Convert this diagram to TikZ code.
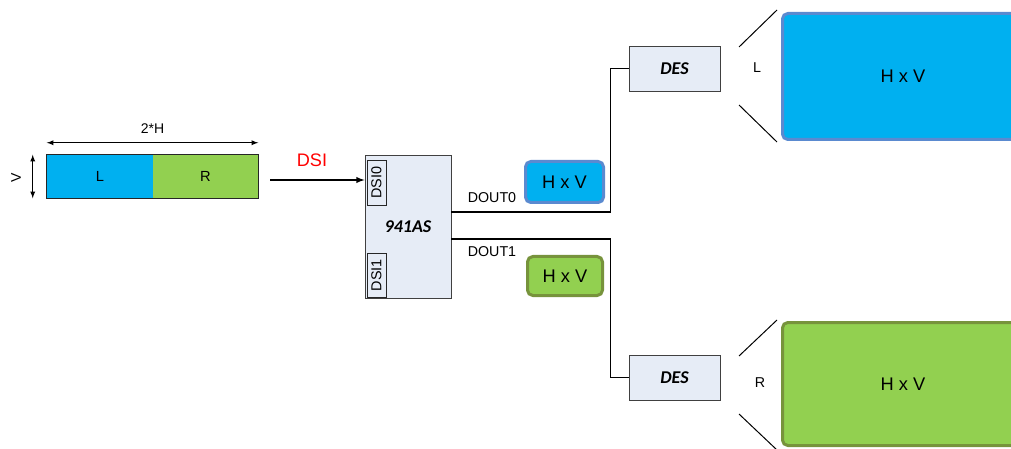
\documentclass[tikz,border=0pt]{standalone}
\usepackage{fontspec}
\setmainfont{Liberation Sans}
\newfontfamily\calfont{Carlito}
\usetikzlibrary{calc}
\definecolor{leftblue}{HTML}{00B0F0}
\definecolor{rightgreen}{HTML}{92D050}
\definecolor{blueedge}{HTML}{5A8AD0}
\definecolor{greenedge}{HTML}{77933C}
\definecolor{chipfill}{HTML}{E6ECF6}
\tikzset{
	chip/.style={draw=black!75, fill=chipfill, line width=0.7pt, inner sep=0pt},
	port/.style={draw=black!85, line width=0.7pt, rotate=90, inner sep=0pt, font=\fontsize{10.8}{12}\selectfont},
	frame/.style={rounded corners=4pt, line width=2.25pt, inner sep=0pt, font=\fontsize{13.7}{16}\selectfont},
	half/.style={inner sep=0pt, minimum height=32.25pt, font=\fontsize{11}{13}\selectfont},
	wire/.style={line width=1.1pt},
	lbl/.style={font=\fontsize{10.7}{12}\selectfont}
}
\begin{document}
\begin{tikzpicture}[x=0.75pt, y=-0.75pt, >=latex]
	\useasboundingbox (0,0) rectangle (1011,449);
	
	%Eingangsbild L/R
	\node[half, fill=leftblue, minimum width=79.5pt] (Lbar) at (100,176.5) {L};
	\node[half, fill=rightgreen, minimum width=78.75pt] (Rbar) at (205.5,176.5) {R};
	\draw[line width=1pt, black!85] (Lbar.north west) rectangle (Rbar.south east);
	\draw[line width=0.75pt, <->] ([yshift=9pt]Lbar.north west) -- ([yshift=9pt]Rbar.north east) node[midway, above=3pt, font=\fontsize{10.5}{12}\selectfont] {2*H};
	\draw[line width=0.75pt, <->] ([xshift=-10.5pt]Lbar.north west) -- ([xshift=-10.5pt]Lbar.south west);
	\node[rotate=90, font=\fontsize{10.5}{12}\selectfont] (vlbl) at (16,178) {V};
	
	%Serializer
	\node[chip, minimum width=64.5pt, minimum height=107.25pt] (ser) at (408,226.5) {\calfont\fontsize{13.5}{16}\selectfont\bfseries\itshape 941AS};
	\node[port, minimum width=33.75pt, minimum height=14.25pt] (dsi0) at (376.5,182.5) {DSI0};
	\node[port, minimum width=33pt, minimum height=14.25pt] (dsi1) at (376.5,275) {DSI1};
	
	\coordinate (dsiin) at (270,180);
	\draw[wire, ->] (dsiin) -- (dsiin -| ser.west);
	\node[red, font=\fontsize{13.6}{16}\selectfont] (dsilbl) at (312,160) {DSI};
	
	%Deserializer
	\node[chip, minimum width=68.25pt, minimum height=33.75pt] (desA) at (674.5,68.5) {\calfont\fontsize{13.5}{16}\selectfont\bfseries\itshape DES};
	\node[chip, minimum width=68.25pt, minimum height=33.75pt] (desB) at (674.5,377.5) {\calfont\fontsize{13.5}{16}\selectfont\bfseries\itshape DES};
	
	\coordinate (d0) at (ser.east |- 0,212);
	\coordinate (d1) at (ser.east |- 0,239);
	\draw[wire] (d0) -- ++(159,0) |- (desA.west);
	\draw[wire] (d1) -- ++(159,0) |- (desB.west);
	\node[lbl] (d0lbl) at (492,198) {DOUT0};
	\node[lbl] (d1lbl) at (492,252) {DOUT1};
	
	\node[frame, draw=blueedge, fill=leftblue, minimum width=58.5pt, minimum height=30.75pt] (smallA) at (564.5,182) {H x V};
	\node[frame, draw=greenedge, fill=rightgreen, minimum width=56.25pt, minimum height=29.25pt] (smallB) at (565,276) {H x V};
	
	%Displays
	\node[frame, draw=blueedge, fill=leftblue, minimum width=180.75pt, minimum height=94.5pt] (dispA) at (903,76.5) {H x V};
	\node[frame, draw=greenedge, fill=rightgreen, minimum width=180.75pt, minimum height=92.25pt] (dispB) at (903,384) {H x V};
	
	\draw[line width=0.75pt] (739,47) -- (777,10);
	\draw[line width=0.75pt] (739,105) -- (777,142);
	\draw[line width=0.75pt] (739,356) -- (777,320);
	\draw[line width=0.75pt] (739,414) -- (777,450);
	\node[lbl] (llbl) at (757,68) {L};
	\node[lbl] (rlbl) at (760,383) {R};
\end{tikzpicture}
\end{document}
